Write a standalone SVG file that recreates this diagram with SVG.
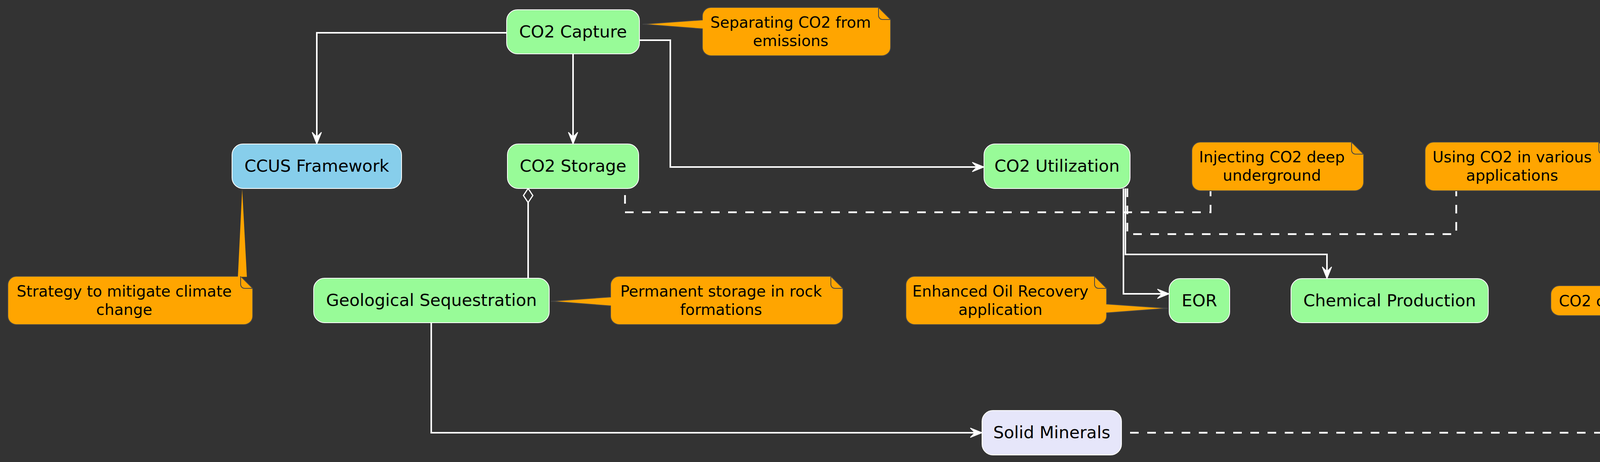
<svg xmlns="http://www.w3.org/2000/svg" width="4625" height="1184" viewBox="0 0 4625 1184">
<style>
.node rect{stroke:#ffffff;stroke-width:2}
.g rect{fill:#98FB98}
.b rect{fill:#87CEEB}
.l rect{fill:#E6E6FA}
.node text{font-family:"DejaVu Sans",Verdana,sans-serif;font-size:43px;fill:#000;text-anchor:middle}
.note .body{fill:#FFA500;stroke:#454545;stroke-width:2}
.note .fold{fill:none;stroke:#454545;stroke-width:2}
.note .ptr{fill:#FFA500;stroke:none}
.note text{font-family:"DejaVu Sans",Verdana,sans-serif;font-size:39px;fill:#000;text-anchor:middle}
.edge{fill:none;stroke:#ffffff;stroke-width:4}
.dash{fill:none;stroke:#ffffff;stroke-width:4.5;stroke-dasharray:22 22}
</style>
<defs>
<marker id="arr" markerUnits="userSpaceOnUse" viewBox="-34 -16 36 32" markerWidth="36" markerHeight="32" refX="-12" refY="0" orient="auto">
<path d="M0,0 L-30,-12 L-18,0 L-30,12 Z" fill="#ffffff" stroke="#ffffff" stroke-width="2" stroke-linejoin="miter"/>
</marker>
</defs>
<rect x="0" y="0" width="4625" height="1184" fill="#333333"/>

<g id="connectors">
<path class="edge" d="M1297,84 H811 V357" marker-end="url(#arr)"/>
<path class="edge" d="M1467,138 V357" marker-end="url(#arr)"/>
<path class="edge" d="M1637,103 H1716 V428 H2507" marker-end="url(#arr)"/>
<path class="edge" d="M1352,519 V713"/>
<polygon points="1352,483 1340,501 1352,519 1364,501" fill="#333333" stroke="#ffffff" stroke-width="3"/>
<path class="edge" d="M1104,827 V1109 H2502" marker-end="url(#arr)"/>
<path class="edge" d="M2876,483 V753 H2981" marker-end="url(#arr)"/>
<path class="edge" d="M2881,483 V652 H3397 V702" marker-end="url(#arr)"/>
<path class="dash" d="M1600,500 V544 H3099 V490"/>
<path class="dash" d="M2886,483 V600 H3728 V490"/>
<path class="dash" d="M2893,1109 H4279 V809"/>
</g>

<g id="n-capture" class="node g">
<rect x="1297" y="25" width="340" height="113" rx="28" ry="28"/>
<text x="1467" y="96">CO2 Capture</text>
</g>
<g id="n-ccus" class="node b">
<rect x="594" y="369" width="434" height="114" rx="28" ry="28"/>
<text x="811" y="440">CCUS Framework</text>
</g>
<g id="n-storage" class="node g">
<rect x="1299" y="369" width="336" height="114" rx="28" ry="28"/>
<text x="1467" y="440">CO2 Storage</text>
</g>
<g id="n-utilization" class="node g">
<rect x="2519" y="369" width="374" height="114" rx="28" ry="28"/>
<text x="2706" y="440">CO2 Utilization</text>
</g>
<g id="n-geo" class="node g">
<rect x="803" y="713" width="603" height="114" rx="28" ry="28"/>
<text x="1104.5" y="784">Geological Sequestration</text>
</g>
<g id="n-eor" class="node g">
<rect x="2993" y="714" width="155" height="113" rx="28" ry="28"/>
<text x="3070.5" y="785">EOR</text>
</g>
<g id="n-chem" class="node g">
<rect x="3305" y="714" width="505" height="113" rx="28" ry="28"/>
<text x="3557.5" y="785">Chemical Production</text>
</g>
<g id="n-solid" class="node l">
<rect x="2514" y="1052" width="357" height="114" rx="28" ry="28"/>
<text x="2692.5" y="1123">Solid Minerals</text>
</g>

<g id="note-capture" class="note">
<path class="body" d="M1820,19 H2249 L2280,50 V121 A22,22 0 0 1 2258,143 H1820 A22,22 0 0 1 1798,121 V74 L1645,62 L1798,51 V41 A22,22 0 0 1 1820,19 Z"/>
<path class="fold" d="M2249,19 V40 A10,10 0 0 0 2259,50 H2280"/>
<text x="2024" y="71">Separating CO2 from</text>
<text x="2024" y="118">emissions</text>
</g>
<g id="note-ccus" class="note">
<path class="body" d="M42,708 H616 L647,739 V810 A22,22 0 0 1 625,832 H42 A22,22 0 0 1 20,810 V730 A22,22 0 0 1 42,708 Z"/>
<polygon class="ptr" points="609,709.5 620,485 632,709.5"/>
<path class="fold" d="M616,708 V729 A10,10 0 0 0 626,739 H647"/>
<text x="318" y="760">Strategy to mitigate climate</text>
<text x="318" y="807">change</text>
</g>
<g id="note-storage" class="note">
<path class="body" d="M3073,364 H3460 L3491,395 V467 A22,22 0 0 1 3469,489 H3073 A22,22 0 0 1 3051,467 V386 A22,22 0 0 1 3073,364 Z"/>
<path class="fold" d="M3460,364 V385 A10,10 0 0 0 3470,395 H3491"/>
<text x="3256" y="416">Injecting CO2 deep</text>
<text x="3256" y="463">underground</text>
</g>
<g id="note-utilization" class="note">
<path class="body" d="M3670,364 H4093 L4124,395 V467 A22,22 0 0 1 4102,489 H3670 A22,22 0 0 1 3648,467 V386 A22,22 0 0 1 3670,364 Z"/>
<path class="fold" d="M4093,364 V385 A10,10 0 0 0 4103,395 H4124"/>
<text x="3871" y="416">Using CO2 in various</text>
<text x="3871" y="463">applications</text>
</g>
<g id="note-geo" class="note">
<path class="body" d="M1585,708 H2127 L2158,739 V810 A22,22 0 0 1 2136,832 H1585 A22,22 0 0 1 1563,810 V784 L1410,772 L1563,761 V730 A22,22 0 0 1 1585,708 Z"/>
<path class="fold" d="M2127,708 V729 A10,10 0 0 0 2137,739 H2158"/>
<text x="1846" y="760">Permanent storage in rock</text>
<text x="1846" y="807">formations</text>
</g>
<g id="note-eor" class="note">
<path class="body" d="M2341,708 H2802 L2833,739 V779 L2990,790 L2833,802 V810 A22,22 0 0 1 2811,832 H2341 A22,22 0 0 1 2319,810 V730 A22,22 0 0 1 2341,708 Z"/>
<path class="fold" d="M2802,708 V729 A10,10 0 0 0 2812,739 H2833"/>
<text x="2561" y="760">Enhanced Oil Recovery</text>
<text x="2561" y="807">application</text>
</g>
<g id="note-solid" class="note">
<path class="body" d="M3992,732 H4561 L4592,763 V787 A22,22 0 0 1 4570,809 H3992 A22,22 0 0 1 3970,787 V754 A22,22 0 0 1 3992,732 Z"/>
<path class="fold" d="M4561,732 V753 A10,10 0 0 0 4571,763 H4592"/>
<text x="4266" y="785">CO2 converted to inert form</text>
</g>
</svg>
